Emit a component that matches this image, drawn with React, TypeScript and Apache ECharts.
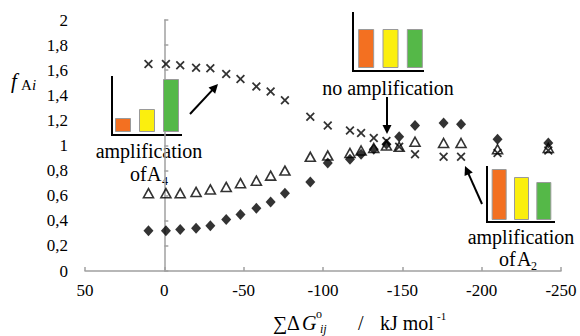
import React, { useEffect, useRef } from "react";
import * as echarts from "echarts";

// ---- data ----
const xValues = [10, -1, -10, -20, -29, -39, -48, -58, -67, -76, -92, -103, -117, -124, -132, -140, -148, -158, -176, -187, -210, -242];
const crossValues = [1.65, 1.65, 1.64, 1.62, 1.615, 1.57, 1.53, 1.47, 1.43, 1.36, 1.23, 1.16, 1.12, 1.1, 1.06, 1.035, 0.99, 0.93, 0.91, 0.91, 0.94, 0.96];
const triangleValues = [0.62, 0.62, 0.62, 0.63, 0.65, 0.67, 0.7, 0.72, 0.76, 0.8, 0.91, 0.92, 0.94, 0.96, 0.98, 1.0, 0.99, 1.03, 1.02, 1.02, 0.97, 0.98];
const diamondValues = [0.32, 0.32, 0.33, 0.34, 0.36, 0.41, 0.45, 0.5, 0.55, 0.62, 0.71, 0.86, 0.89, 0.93, 0.97, 1.01, 1.07, 1.16, 1.18, 1.17, 1.05, 1.02];

// inset bar heights (relative, same scale within each inset)
const insetCategories = ["A1", "A2", "A4"];
const insetAmpA4 = [14, 23, 53];
const insetNoAmp = [39, 39, 39];
const insetAmpA2 = [51, 43, 38];
const barColors = ["#F37021", "#FBEF0E", "#55B848"];

const SERIF = "'Liberation Serif', 'Times New Roman', serif";
const CROSS = "path://M0,1.4L1.4,0L5,3.6L8.6,0L10,1.4L6.4,5L10,8.6L8.6,10L5,6.4L1.4,10L0,8.6L3.6,5Z";

function arrow(x1: number, y1: number, x2: number, y2: number) {
  const dx = x2 - x1, dy = y2 - y1;
  const len = Math.sqrt(dx * dx + dy * dy);
  const ux = dx / len, uy = dy / len;
  const hl = 9, hw = 4.5;
  const bx = x2 - ux * hl, by = y2 - uy * hl;
  return [
    { type: "line", shape: { x1, y1, x2: bx + ux * 2, y2: by + uy * 2 }, style: { stroke: "#000", lineWidth: 2 } },
    {
      type: "polygon",
      shape: { points: [[x2, y2], [bx - uy * hw, by + ux * hw], [bx + uy * hw, by - ux * hw]] },
      style: { fill: "#000" },
    },
  ];
}

function lineEl(x1: number, y1: number, x2: number, y2: number) {
  return { type: "line", shape: { x1, y1, x2, y2 }, style: { stroke: "#000", lineWidth: 2 } };
}

function txt(text: string, x: number, y: number, size: number, opts: any = {}) {
  return {
    type: "text",
    x,
    y,
    style: {
      text,
      fontFamily: SERIF,
      fontSize: size,
      fontStyle: opts.italic ? "italic" : "normal",
      fill: "#000",
      align: opts.align || "left",
      verticalAlign: "middle",
    },
  };
}

function insetBars(values: number[], gridIndex: number, width: number) {
  return {
    type: "bar",
    xAxisIndex: gridIndex,
    yAxisIndex: gridIndex,
    barWidth: width,
    silent: true,
    data: values.map((v, i) => ({
      value: v,
      itemStyle: { color: barColors[i], borderColor: "#9a9a9a", borderWidth: 1 },
    })),
  };
}

export default function App() {
  const ref = useRef<HTMLDivElement>(null);
  useEffect(() => {
    if (!ref.current) return;
    const chart = echarts.init(ref.current, null, { renderer: "svg" });
    const fmtY = (v: number) => String(Math.round(v * 10) / 10).replace(".", ",");
    const insetGrids = [
      { left: 111, top: 75, width: 72, height: 57 },
      { left: 354, top: 13, width: 73, height: 55 },
      { left: 488, top: 165, width: 67, height: 55 },
    ];
    const insetMax = [57, 55, 55];
    chart.setOption({
      animation: false,
      backgroundColor: "#fff",
      grid: [
        { left: 85, right: 19, top: 20, bottom: 65, outerBoundsMode: "none" },
        ...insetGrids.map((g) => ({ ...g, outerBoundsMode: "none" })),
      ],
      xAxis: [
        {
          type: "value",
          gridIndex: 0,
          min: -250,
          max: 50,
          interval: 50,
          inverse: true,
          splitLine: { show: false },
          axisLine: { lineStyle: { color: "#a0a0a0", width: 1.5 } },
          axisTick: { inside: true, length: 4, lineStyle: { color: "#a0a0a0", width: 1.5 } },
          axisLabel: { color: "#000", fontFamily: SERIF, fontSize: 17, margin: 11 },
        },
        ...insetGrids.map((_, i) => ({
          type: "category",
          gridIndex: i + 1,
          data: insetCategories,
          show: false,
        })),
      ],
      yAxis: [
        {
          type: "value",
          gridIndex: 0,
          min: 0,
          max: 2,
          interval: 0.2,
          splitLine: { show: false },
          axisLine: { show: true, lineStyle: { color: "#a0a0a0", width: 1.5 } },
          axisTick: { show: true, inside: true, length: 4, lineStyle: { color: "#a0a0a0", width: 1.5 } },
          axisLabel: { color: "#000", fontFamily: SERIF, fontSize: 17, margin: 17, formatter: fmtY },
        },
        ...insetGrids.map((_, i) => ({
          type: "value",
          gridIndex: i + 1,
          min: 0,
          max: insetMax[i],
          show: false,
        })),
      ],
      series: [
        {
          type: "scatter",
          symbol: CROSS,
          symbolSize: 9,
          itemStyle: { color: "#000" },
          data: xValues.map((x, i) => [x, crossValues[i]]),
          z: 2,
        },
        {
          type: "scatter",
          symbol: "triangle",
          symbolSize: [10, 9],
          itemStyle: { color: "rgba(0,0,0,0)", borderColor: "#000", borderWidth: 1.6 },
          data: xValues.map((x, i) => [x, triangleValues[i]]),
          z: 3,
        },
        {
          type: "scatter",
          symbol: "diamond",
          symbolSize: [10, 11],
          itemStyle: { color: "#000" },
          data: xValues.map((x, i) => [x, diamondValues[i]]),
          z: 4,
        },
        insetBars(insetAmpA4, 1, 16),
        insetBars(insetNoAmp, 2, 16),
        insetBars(insetAmpA2, 3, 15),
      ],
      graphic: [
        // y-axis name f_Ai
        txt("f", 11, 81, 21, { italic: true }),
        txt("A", 21, 85, 15),
        txt("i", 32, 85, 15, { italic: true }),
        // x-axis title
        txt("\u2211", 273, 323, 20),
        txt("\u0394", 287, 323, 20),
        txt("G", 302, 323, 20, { italic: true }),
        txt("o", 316, 314, 12),
        txt("ij", 320, 329, 12, { italic: true }),
        txt("/", 358, 323, 20),
        txt("kJ mol", 380, 323, 20),
        txt("-1", 437, 316, 11),
        // inset lines
        lineEl(112, 76, 112, 136),
        lineEl(111, 135, 182, 135),
        lineEl(353, 12, 353, 72),
        lineEl(352, 71, 424, 71),
        lineEl(487, 166, 487, 223),
        lineEl(486, 222, 555, 222),
        // inset labels
        txt("amplification", 149, 151, 20, { align: "center" }),
        txt("of", 130, 174, 20),
        txt("A", 147, 174, 20),
        txt("4", 162, 181, 12),
        txt("no amplification", 388, 88, 20, { align: "center" }),
        txt("amplification", 521, 237, 20, { align: "center" }),
        txt("of", 499, 259, 20),
        txt("A", 517, 259, 20),
        txt("2", 531, 266, 12),
        // arrows
        ...arrow(190, 114, 218, 84),
        ...arrow(387, 97, 387, 134),
        ...arrow(482, 204, 465, 166),
      ],
    });
    return () => chart.dispose();
  }, []);
  return (
    <div
      ref={ref}
      style={{ position: "fixed", left: 0, top: 0, width: 580, height: 336, background: "#fff" }}
    />
  );
}
